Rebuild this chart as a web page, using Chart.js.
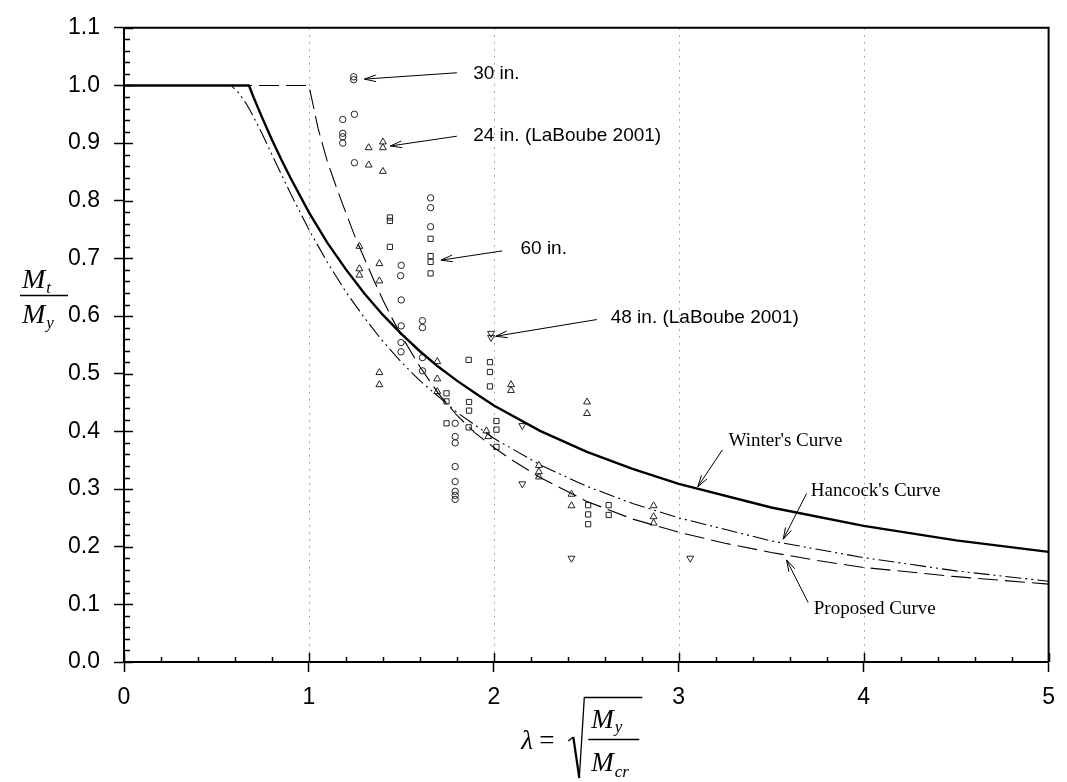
<!DOCTYPE html>
<html>
<head>
<meta charset="utf-8">
<title>Mt/My against slenderness</title>
<script src="https://cdn.jsdelivr.net/npm/chart.js@4.4.1/dist/chart.umd.min.js"></script>
<style>
  html, body { margin: 0; padding: 0; background: #fff; }
  canvas { display: block; }
</style>
</head>
<body>
<canvas id="chart" width="1067" height="782"></canvas>
<script>
// test results, [lambda, Mt/My]
const circles = [
  [1.183, 0.941], [1.183, 0.917], [1.183, 0.911], [1.183, 0.900],
  [1.242, 1.015], [1.242, 1.010], [1.246, 0.950], [1.246, 0.866],
  [1.499, 0.688], [1.496, 0.670], [1.499, 0.628], [1.499, 0.583], [1.498, 0.554], [1.498, 0.538],
  [1.614, 0.592], [1.614, 0.580], [1.614, 0.528], [1.614, 0.505],
  [1.658, 0.805], [1.658, 0.788], [1.658, 0.755],
  [1.791, 0.414], [1.791, 0.391], [1.791, 0.380], [1.791, 0.339],
  [1.791, 0.313], [1.791, 0.296], [1.791, 0.289], [1.791, 0.282]
];
const trianglesUp = [
  [1.273, 0.721], [1.273, 0.682], [1.273, 0.671],
  [1.323, 0.892], [1.323, 0.862],
  [1.381, 0.691], [1.381, 0.661], [1.381, 0.502], [1.381, 0.481],
  [1.400, 0.902], [1.400, 0.892], [1.400, 0.851],
  [1.694, 0.521], [1.694, 0.491], [1.694, 0.469],
  [1.960, 0.401], [1.970, 0.391],
  [2.093, 0.481], [2.093, 0.471],
  [2.244, 0.341], [2.244, 0.330], [2.244, 0.321],
  [2.420, 0.291], [2.420, 0.271],
  [2.504, 0.451], [2.504, 0.431],
  [2.864, 0.271], [2.864, 0.252], [2.864, 0.241]
];
const squares = [
  [1.438, 0.771], [1.438, 0.765], [1.438, 0.720],
  [1.658, 0.734], [1.658, 0.704], [1.658, 0.694], [1.658, 0.674],
  [1.744, 0.466], [1.744, 0.452], [1.744, 0.414],
  [1.864, 0.524], [1.866, 0.451], [1.866, 0.436], [1.864, 0.407],
  [1.979, 0.520], [1.979, 0.503], [1.979, 0.478],
  [2.014, 0.418], [2.014, 0.403], [2.014, 0.373],
  [2.510, 0.272], [2.510, 0.256], [2.510, 0.239],
  [2.621, 0.272], [2.621, 0.255]
];
const trianglesDown = [
  [1.985, 0.570], [1.985, 0.563], [2.154, 0.410], [2.154, 0.309], [2.420, 0.180], [3.062, 0.180]
];

// design curves
const winterLambda = [0, 0.676, 0.70, 0.75, 0.80, 0.85, 0.90, 1.0, 1.1, 1.2, 1.3, 1.4, 1.5, 1.6, 1.7, 1.8, 1.9, 2.0, 2.25, 2.5, 2.75, 3.0, 3.5, 4.0, 4.5, 5.0];
const winterRatio  = [1.0, 1.0, 0.980, 0.942, 0.906, 0.872, 0.840, 0.780, 0.727, 0.681, 0.639, 0.602, 0.569, 0.539, 0.512, 0.488, 0.466, 0.445, 0.401, 0.365, 0.335, 0.309, 0.268, 0.236, 0.211, 0.191];

const hancockLambda = [0, 0.58, 0.62, 0.66, 0.70, 0.75, 0.80, 0.90, 1.0, 1.1, 1.2, 1.3, 1.4, 1.5, 1.6, 1.8, 2.0, 2.25, 2.5, 2.75, 3.0, 3.5, 4.0, 4.5, 5.0];
const hancockRatio  = [1.0, 1.0, 0.987, 0.969, 0.946, 0.914, 0.880, 0.813, 0.750, 0.693, 0.642, 0.597, 0.556, 0.520, 0.488, 0.433, 0.388, 0.342, 0.305, 0.275, 0.250, 0.210, 0.181, 0.158, 0.140];

const proposedLambda = [0, 1.0, 1.05, 1.1, 1.15, 1.2, 1.25, 1.3, 1.35, 1.4, 1.45, 1.5, 1.6, 1.7, 1.8, 1.9, 2.0, 2.1, 2.25, 2.5, 2.75, 3.0, 3.25, 3.5, 3.75, 4.0, 4.5, 5.0];
const proposedRatio  = [1.0, 1.0, 0.925, 0.868, 0.822, 0.779, 0.737, 0.700, 0.663, 0.628, 0.596, 0.566, 0.512, 0.466, 0.428, 0.397, 0.372, 0.350, 0.320, 0.279, 0.248, 0.225, 0.206, 0.190, 0.176, 0.164, 0.148, 0.135];

// axis ticks
const xTickValues = [0, 1, 2, 3, 4, 5];
const yTickValues = [0.0, 0.1, 0.2, 0.3, 0.4, 0.5, 0.6, 0.7, 0.8, 0.9, 1.0, 1.1];
const gridLambda = [1, 2, 3, 4];

const SANS = '"Liberation Sans", Arial, sans-serif';
const SERIF = '"Liberation Serif", "Times New Roman", serif';

// labels with arrows, in axis units
const callouts = [
  { text: '30 in.', font: '19px ' + SANS, at: [1.888, 1.020], from: [1.800, 1.022], to: [1.300, 1.011] },
  { text: '24 in. (LaBoube 2001)', font: '19px ' + SANS, at: [1.888, 0.913], from: [1.800, 0.912], to: [1.440, 0.895] },
  { text: '60 in.', font: '19px ' + SANS, at: [2.144, 0.717], from: [2.045, 0.713], to: [1.714, 0.697] },
  { text: '48 in. (LaBoube 2001)', font: '19px ' + SANS, at: [2.632, 0.597], from: [2.557, 0.594], to: [2.010, 0.565] },
  { text: "Winter's Curve", font: '19px ' + SERIF, at: [3.269, 0.384], from: [3.236, 0.368], to: [3.103, 0.304] },
  { text: "Hancock's Curve", font: '19px ' + SERIF, at: [3.714, 0.296], from: [3.691, 0.292], to: [3.565, 0.213] },
  { text: 'Proposed Curve', font: '19px ' + SERIF, at: [3.730, 0.092], from: [3.700, 0.103], to: [3.583, 0.177] }
];

const toXY = pts => pts.map(p => ({ x: p[0], y: p[1] }));
const zip = (xs, ys) => xs.map((x, i) => ({ x: x, y: ys[i] }));

function markerSet(pts, style, radius, rotation) {
  return {
    data: toXY(pts),
    pointStyle: style,
    pointRotation: rotation,
    pointRadius: radius,
    pointBorderColor: '#222',
    pointBackgroundColor: 'rgba(0,0,0,0)',
    pointBorderWidth: 1,
    showLine: false
  };
}

function curveSet(xs, ys, width, dash) {
  return {
    data: zip(xs, ys),
    showLine: true,
    borderColor: '#000',
    borderWidth: width,
    borderDash: dash,
    pointRadius: 0,
    tension: 0,
    fill: false
  };
}

function drawArrow(ctx, x1, y1, x2, y2) {
  const ang = Math.atan2(y2 - y1, x2 - x1);
  const len = 12, half = 0.28;
  ctx.beginPath();
  ctx.moveTo(x1, y1);
  ctx.lineTo(x2, y2);
  ctx.moveTo(x2 - len * Math.cos(ang - half), y2 - len * Math.sin(ang - half));
  ctx.lineTo(x2, y2);
  ctx.lineTo(x2 - len * Math.cos(ang + half), y2 - len * Math.sin(ang + half));
  ctx.stroke();
}

// italic symbol with a subscript, returns the end x
function symbolSub(ctx, x, y, main, sub, size, subSize, subDrop) {
  ctx.font = 'italic ' + size + 'px ' + SERIF;
  ctx.fillText(main, x, y);
  const w = ctx.measureText(main).width;
  ctx.font = 'italic ' + subSize + 'px ' + SERIF;
  ctx.fillText(sub, x + w + 1, y + subDrop);
  return x + w + 1 + ctx.measureText(sub).width;
}

const decorPlugin = {
  id: 'decor',
  beforeDatasetsDraw(chart) {
    const { ctx, chartArea: a, scales: { x } } = chart;
    ctx.save();
    ctx.strokeStyle = '#a8a8a8';
    ctx.lineWidth = 1;
    ctx.setLineDash([2, 5]);
    gridLambda.forEach(v => {
      const xp = Math.round(x.getPixelForValue(v)) + 0.5;
      ctx.beginPath();
      ctx.moveTo(xp, a.top);
      ctx.lineTo(xp, a.bottom);
      ctx.stroke();
    });
    ctx.restore();
  },
  afterDraw(chart) {
    const { ctx, chartArea: a, scales: { x, y } } = chart;
    ctx.save();
    ctx.strokeStyle = '#000';

    // top and right edges of the frame
    ctx.lineWidth = 2;
    ctx.beginPath();
    ctx.moveTo(a.left, a.top);
    ctx.lineTo(a.right, a.top);
    ctx.lineTo(a.right, a.bottom);
    ctx.stroke();

    // inward ticks: majors a bit longer than the minors
    ctx.lineWidth = 1.5;
    for (let k = 0; k <= 55; k++) {
      const yp = Math.round(y.getPixelForValue(k * 0.02)) + 0.5;
      const len = k % 5 === 0 ? 9 : 6;
      ctx.beginPath();
      ctx.moveTo(a.left, yp);
      ctx.lineTo(a.left + len, yp);
      ctx.stroke();
    }
    for (let k = 0; k <= 25; k++) {
      const xp = Math.round(x.getPixelForValue(k * 0.2)) + 0.5;
      const len = k % 5 === 0 ? 9 : 5;
      ctx.beginPath();
      ctx.moveTo(xp, a.bottom);
      ctx.lineTo(xp, a.bottom - len);
      ctx.stroke();
    }

    // callouts
    ctx.lineWidth = 1;
    ctx.fillStyle = '#000';
    ctx.textBaseline = 'middle';
    ctx.textAlign = 'left';
    callouts.forEach(c => {
      drawArrow(ctx,
        x.getPixelForValue(c.from[0]), y.getPixelForValue(c.from[1]),
        x.getPixelForValue(c.to[0]), y.getPixelForValue(c.to[1]));
      ctx.font = c.font;
      ctx.fillText(c.text, x.getPixelForValue(c.at[0]), y.getPixelForValue(c.at[1]));
    });

    // y title: Mt / My
    ctx.textBaseline = 'alphabetic';
    const barY = Math.round(y.getPixelForValue(0.636)) + 0.5;
    ctx.lineWidth = 1.3;
    ctx.beginPath();
    ctx.moveTo(20, barY);
    ctx.lineTo(68, barY);
    ctx.stroke();
    symbolSub(ctx, 22, barY - 8, 'M', 't', 28, 17, 5);
    symbolSub(ctx, 22, barY + 27, 'M', 'y', 28, 17, 5);

    // x title: lambda = sqrt(My / Mcr)
    const cx = (a.left + a.right) / 2;
    const b = a.bottom;
    ctx.font = 'italic 27px ' + SERIF;
    ctx.fillText('\u03bb', cx - 65, b + 87);
    ctx.font = '27px ' + SERIF;
    ctx.fillText('=', cx - 47, b + 87);
    ctx.lineWidth = 1.4;
    ctx.beginPath();
    ctx.moveTo(cx - 18, b + 79);
    ctx.lineTo(cx - 13, b + 75);
    ctx.stroke();
    ctx.lineWidth = 2.2;
    ctx.beginPath();
    ctx.moveTo(cx - 13, b + 75);
    ctx.lineTo(cx - 7, b + 116);
    ctx.stroke();
    ctx.lineWidth = 1.3;
    ctx.beginPath();
    ctx.moveTo(cx - 7, b + 116);
    ctx.lineTo(cx - 2, b + 35.5);
    ctx.lineTo(cx + 56, b + 35.5);
    ctx.stroke();
    ctx.beginPath();
    ctx.moveTo(cx + 2, b + 77.5);
    ctx.lineTo(cx + 53, b + 77.5);
    ctx.stroke();
    symbolSub(ctx, cx + 5, b + 66, 'M', 'y', 27, 17, 4);
    symbolSub(ctx, cx + 5, b + 109, 'M', 'cr', 27, 17, 6);

    ctx.restore();
  }
};

new Chart(document.getElementById('chart'), {
  type: 'scatter',
  data: {
    datasets: [
      curveSet(winterLambda, winterRatio, 2.4, []),
      curveSet(hancockLambda, hancockRatio, 1.1, [16, 4, 2, 4, 2, 4]),
      curveSet(proposedLambda, proposedRatio, 1.1, [20, 7]),
      markerSet(circles, 'circle', 3.2, 0),
      markerSet(trianglesUp, 'triangle', 4, 0),
      markerSet(squares, 'rect', 3.7, 0),
      markerSet(trianglesDown, 'triangle', 4, 180)
    ]
  },
  options: {
    responsive: false,
    animation: false,
    devicePixelRatio: 1,
    layout: { padding: { top: 16, right: 16, left: 0, bottom: 0 } },
    plugins: {
      legend: { display: false },
      tooltip: { enabled: false }
    },
    scales: {
      x: {
        type: 'linear',
        min: 0,
        max: 5,
        afterBuildTicks: s => { s.ticks = xTickValues.map(v => ({ value: v })); },
        afterFit: s => { s.height = 120; },
        ticks: {
          callback: v => String(v),
          color: '#000',
          padding: 12,
          maxRotation: 0,
          font: { family: SANS, size: 23 }
        },
        grid: {
          drawOnChartArea: false,
          drawTicks: true,
          tickLength: 10,
          tickColor: '#000',
          tickWidth: 1.5
        },
        border: { display: true, color: '#000', width: 2 }
      },
      y: {
        type: 'linear',
        min: 0,
        max: 1.1,
        afterBuildTicks: s => { s.ticks = yTickValues.map(v => ({ value: v })); },
        afterFit: s => { s.width = 124; },
        ticks: {
          callback: v => v.toFixed(1),
          color: '#000',
          padding: 14,
          font: { family: SANS, size: 23 }
        },
        grid: {
          drawOnChartArea: false,
          drawTicks: true,
          tickLength: 10,
          tickColor: '#000',
          tickWidth: 1.5
        },
        border: { display: true, color: '#000', width: 2 }
      }
    }
  },
  plugins: [decorPlugin]
});
</script>
</body>
</html>
